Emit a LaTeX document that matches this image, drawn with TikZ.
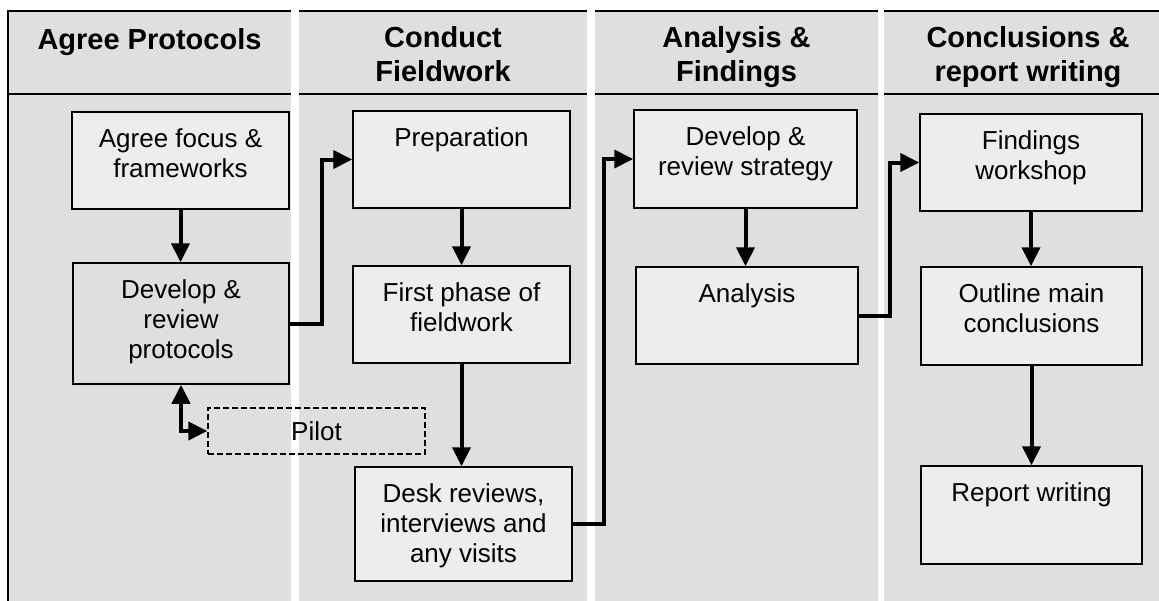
\documentclass[tikz,border=0pt]{standalone}
\usepackage{fontspec}
\setmainfont{Liberation Sans}
\usetikzlibrary{arrows.meta}
\definecolor{bg}{HTML}{DFDFDF}
\definecolor{boxfill}{HTML}{EDEDED}
\newcommand\bodyfont{\fontsize{26pt}{30pt}\selectfont}
\newcommand\headfont{\fontsize{29pt}{34pt}\selectfont\bfseries}
\newcommand\boxtxt[3]{\parbox[t][#2pt][t]{#1pt}{\centering\rule{0pt}{35pt}#3\par}}
\tikzset{
  box/.style={draw, line width=1.5pt, fill=boxfill, inner sep=0pt, font=\bodyfont},
  plainbox/.style={box, fill=bg},
  pilotbox/.style={draw, dash pattern=on 6pt off 3pt, line width=1.4pt, inner sep=0pt,
    minimum width=217pt, minimum height=46pt, font=\bodyfont},
  tip/.tip={Triangle[length=19pt,width=18pt]},
  conn/.style={line width=4pt, -tip},
  frame/.style={line width=1.8pt},
  head/.style={font=\headfont, align=center, anchor=north, inner sep=0pt},
}
\begin{document}
\begin{tikzpicture}[x=1pt,y=-1pt]
\useasboundingbox (0,0) rectangle (1159,600);
\clip (0,0) rectangle (1159,600);
% columns
\foreach \l/\r in {8/291, 299/587, 595/878, 884/1172} {
  \fill[bg] (\l,11) rectangle (\r,620);
  \draw[frame] (\l,11) -- (\r,11);
  \draw[frame] (\l,94) -- (\r,94);
}
\draw[frame] (8,620) -- (8,11) -- (20,11);
% headers
\node[head] (h1) at (149.5,28) {Agree Protocols};
\node[head] (h2) at (443,26) {Conduct\\Fieldwork};
\node[head] (h3) at (736.5,26) {Analysis \&\\Findings};
\node[head] (h4) at (1028,26) {Conclusions \&\\report writing};
% boxes
\node[box] (agree) at (180.5,160.5) {\boxtxt{217}{97}{Agree focus \&\\frameworks}};
\node[plainbox] (develop) at (181,323.5) {\boxtxt{216}{121}{Develop \&\\review\\protocols}};
\node[pilotbox] (pilot) at (316.5,431) {Pilot};
\node[box] (prep) at (461.5,159.5) {\boxtxt{217}{97}{Preparation}};
\node[box] (first) at (461.5,314.5) {\boxtxt{217}{97}{First phase of\\fieldwork}};
\node[box] (desk) at (463.5,524) {\boxtxt{217}{114}{Desk reviews,\\interviews and\\any visits}};
\node[box] (strategy) at (745.5,159) {\boxtxt{223}{98}{Develop \&\\review strategy}};
\node[box] (analysis) at (747,315.5) {\boxtxt{222}{97}{Analysis}};
\node[box] (findings) at (1031,162.5) {\boxtxt{222}{97}{Findings\\workshop}};
\node[box] (outline) at (1031.5,316) {\boxtxt{221}{98}{Outline main\\conclusions}};
\node[box] (report) at (1031.5,515) {\boxtxt{221}{98}{Report writing}};
% connectors
\draw[conn] (agree.south) -- (agree.south |- develop.north);
\draw[conn] (develop.east) -- ++(32,0) |- (prep.west);
\draw[conn] (prep.south) -- (prep.south |- first.north);
\draw[conn] (first.south) -- (first.south |- desk.north);
\draw[conn] (desk.east) -- ++(31,0) |- (strategy.west);
\draw[conn] (strategy.south) -- (strategy.south |- analysis.north);
\draw[conn] (analysis.east) -- ++(31,0) |- (findings.west);
\draw[conn] (findings.south) -- (findings.south |- outline.north);
\draw[conn] (outline.south) -- (outline.south |- report.north);
\draw[conn, tip-tip] (develop.south) |- (pilot.west);
\end{tikzpicture}
\end{document}
